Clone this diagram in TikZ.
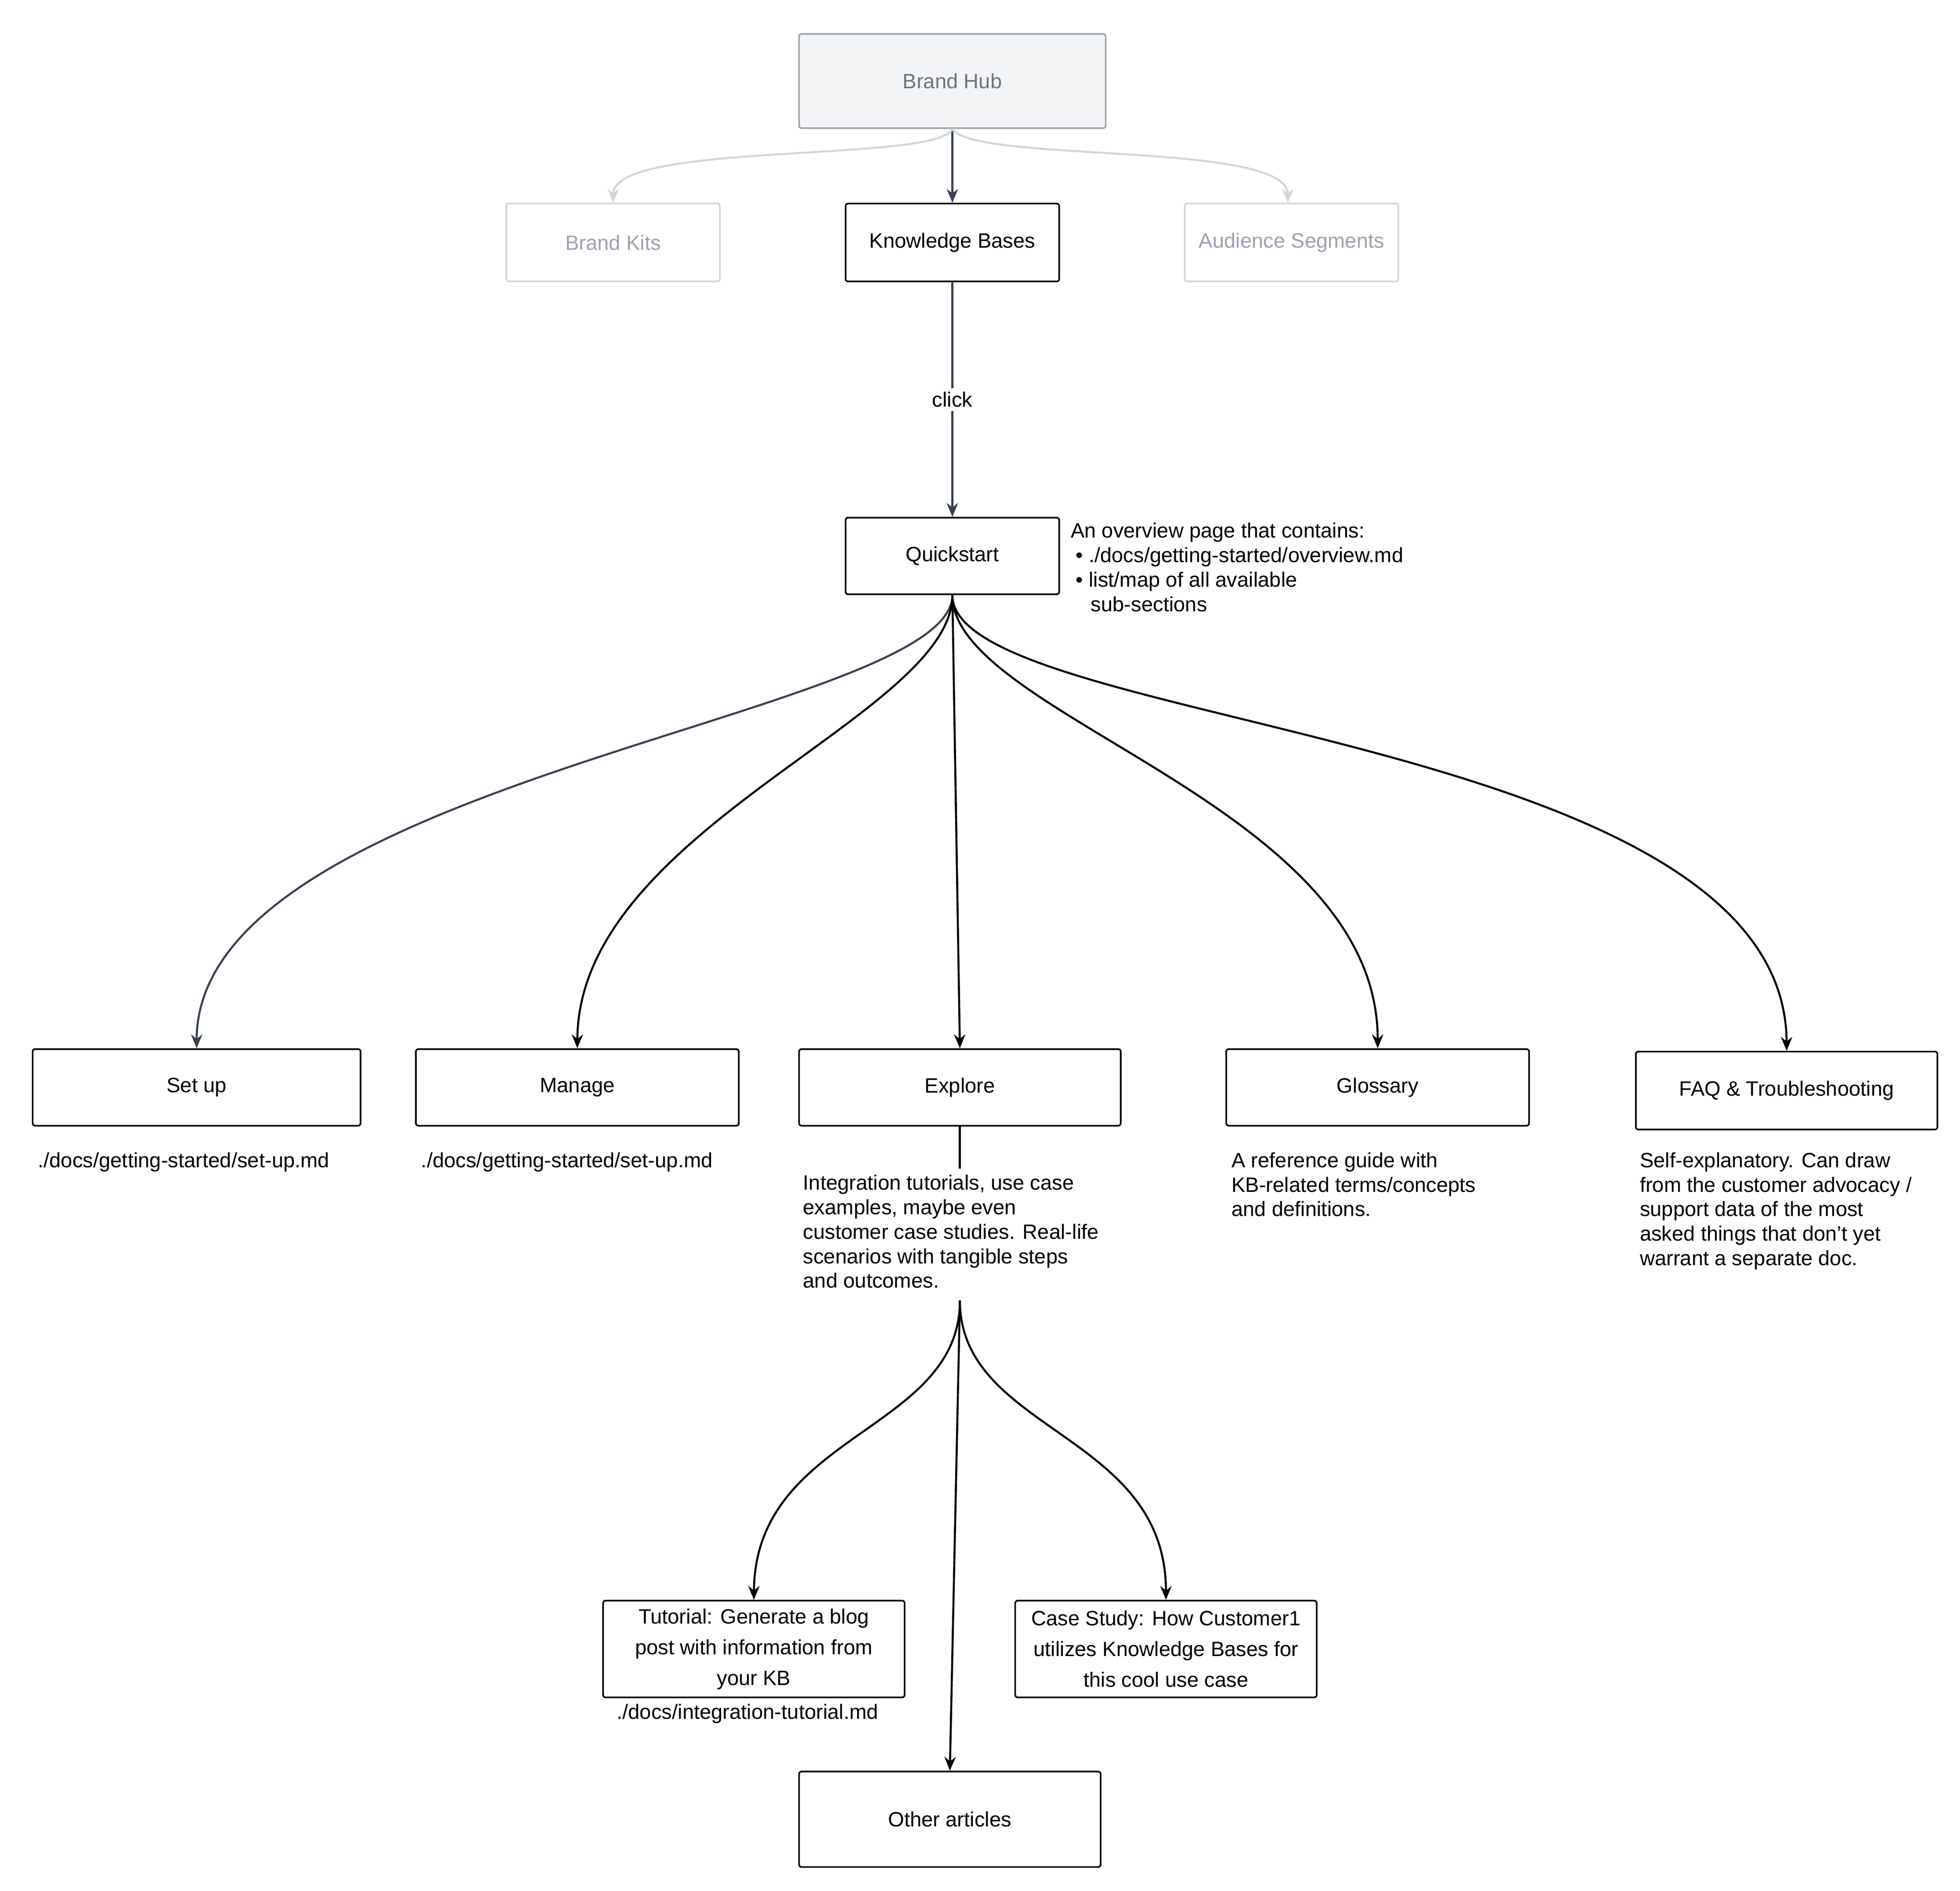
\documentclass[tikz,border=0pt]{standalone}
\usepackage{fontspec}
\setmainfont{Liberation Sans}
\usetikzlibrary{arrows.meta}
\definecolor{hubfill}{HTML}{F3F4F6}
\definecolor{hubline}{HTML}{9CA3AF}
\definecolor{hubtext}{HTML}{6B7280}
\definecolor{faint}{HTML}{D1D5DB}
\definecolor{fainttext}{HTML}{9CA3AF}
\definecolor{darkedge}{HTML}{374151}
\begin{document}
\begin{tikzpicture}[x=1pt,y=-1pt,
  every node/.style={font=\fontsize{16.5}{20}\selectfont},
  box/.style={draw=black,line width=1.3pt,rounded corners=2pt,align=center,inner sep=0pt},
  fbox/.style={draw=faint,line width=1.3pt,rounded corners=2pt,text=fainttext,inner sep=0pt},
  note/.style={anchor=north west,align=left,inner sep=0pt,font=\fontsize{16.5}{19.5}\selectfont},
  arr/.style={line width=1.6pt,-{Stealth[length=11pt,width=9pt]}},
  darr/.style={arr,draw=darkedge},
  farr/.style={arr,draw=faint}]
\useasboundingbox (0,0) rectangle (1560,1505);
\node[box,draw=hubline,fill=hubfill,text=hubtext,minimum width=244pt,minimum height=75pt] (hub) at (758,64.5) {Brand Hub};
\node[fbox,minimum width=170pt,minimum height=62pt] (kits) at (488,193) {Brand Kits};
\node[box,minimum width=170pt,minimum height=62pt] (kb) at (758,193) {Knowledge Bases};
\node[fbox,minimum width=170pt,minimum height=62pt] (aud) at (1028,193) {Audience Segments};
\node[box,minimum width=170pt,minimum height=61pt] (qs) at (758,442.5) {Quickstart};
\node[note] (qsnote) at (852,416) {An overview page that contains:\\
\hspace*{4pt}\textbullet\ ./docs/getting-started/overview.md\\
\hspace*{4pt}\textbullet\ list/map of all available\\
\hspace*{16pt}sub-sections};
\node[box,minimum width=261pt,minimum height=61pt] (setup) at (156.5,865.5) {Set up};
\node[box,minimum width=257pt,minimum height=61pt] (manage) at (459.5,865.5) {Manage};
\node[box,minimum width=256pt,minimum height=61pt] (explore) at (764,865.5) {Explore};
\node[box,minimum width=241pt,minimum height=61pt] (gloss) at (1096.5,865.5) {Glossary};
\node[box,minimum width=240pt,minimum height=62pt] (faq) at (1422,868) {FAQ \& Troubleshooting};
\node[note] (setupnote) at (30,917) {./docs/getting-started/set-up.md};
\node[note] (managenote) at (335,917) {./docs/getting-started/set-up.md};
\node[note] (explnote) at (639,935) {Integration tutorials, use case\\examples, maybe even\\customer case studies. Real-life\\scenarios with tangible steps\\and outcomes.};
\node[note] (glossnote) at (980,917) {A reference guide with\\KB-related terms/concepts\\and definitions.};
\node[note] (faqnote) at (1305,917) {Self-explanatory. Can draw\\from the customer advocacy /\\support data of the most\\asked things that don't yet\\warrant a separate doc.};
\node[box,minimum width=240pt,minimum height=77pt,font=\fontsize{16.5}{24.5}\selectfont] (tut) at (600,1312.5) {Tutorial: Generate a blog\\post with information from\\your KB};
\node[note,anchor=north] (tutnote) at (595,1356) {./docs/integration-tutorial.md};
\node[box,minimum width=240pt,minimum height=77pt,font=\fontsize{16.5}{24.5}\selectfont] (case) at (928,1312.5) {Case Study: How Customer1\\utilizes Knowledge Bases for\\this cool use case};
\node[box,minimum width=240pt,minimum height=76pt] (other) at (756,1448) {Other articles};
% top edges
\draw[darr] (hub.south) -- (kb.north);
\draw[farr] (hub.south) .. controls (745,130) and (488,112) .. (kits.north);
\draw[farr] (hub.south) .. controls (775,130) and (1025,112) .. (aud.north -| 1025,0);
\draw[darr] (kb.south) -- node[fill=white,inner sep=3pt] (clk) {click} (qs.north);
% quickstart children
\draw[darr] (qs.south) .. controls (758,570) and (157,620) .. (setup.north);
\draw[arr] (qs.south) .. controls (758,570) and (460,660) .. (manage.north);
\draw[arr] (qs.south) -- (explore.north);
\draw[arr] (qs.south) .. controls (758,570) and (1097,640) .. (gloss.north);
\draw[arr] (qs.south) .. controls (758,580) and (1421,580) .. (faq.north);
% explore
\coordinate (ex) at (764,1035);
\draw[line width=1.6pt] (explore.south) -- (764,930);
\draw[arr] (ex) .. controls (764,1140) and (601,1140) .. (tut.north);
\draw[arr] (ex) .. controls (764,1140) and (928,1140) .. (case.north);
\draw[arr] (ex) -- (other.north);
\end{tikzpicture}
\end{document}
